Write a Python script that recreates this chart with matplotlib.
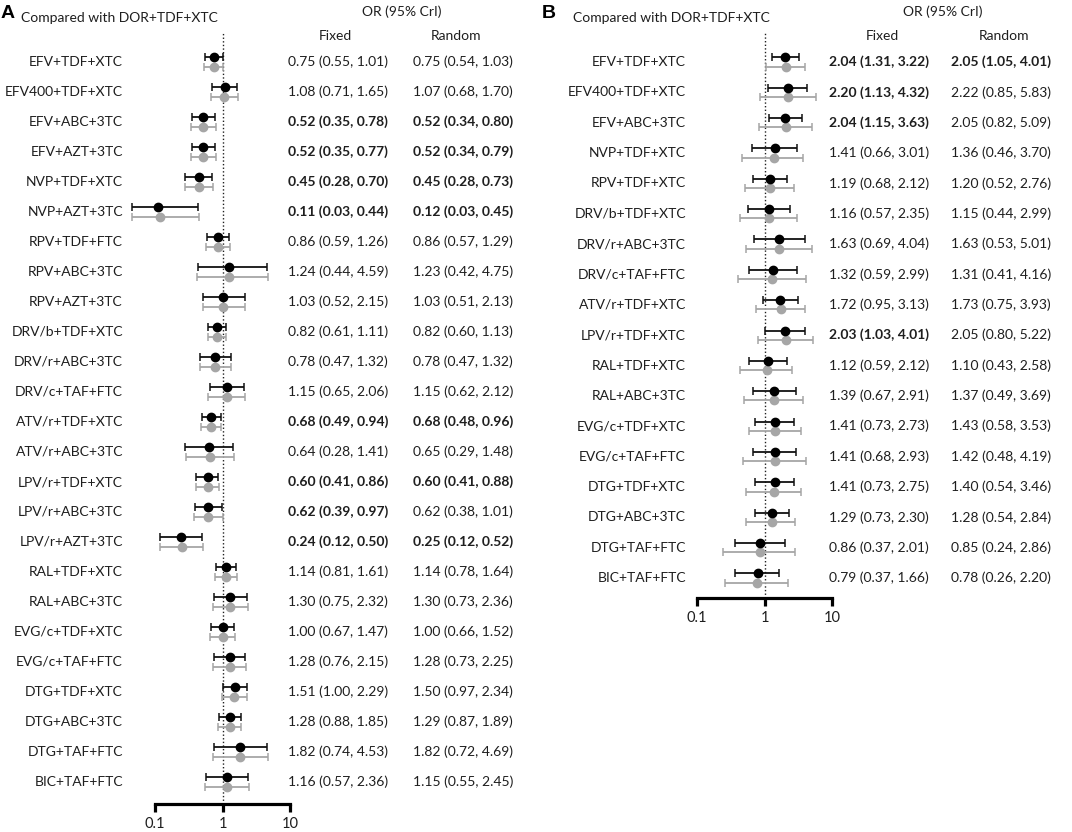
import matplotlib
matplotlib.use("Agg")
import matplotlib.pyplot as plt
import numpy as np

# ---------------- data ----------------
a_labels = ["EFV+TDF+XTC", "EFV400+TDF+XTC", "EFV+ABC+3TC", "EFV+AZT+3TC", "NVP+TDF+XTC",
            "NVP+AZT+3TC", "RPV+TDF+FTC", "RPV+ABC+3TC", "RPV+AZT+3TC", "DRV/b+TDF+XTC",
            "DRV/r+ABC+3TC", "DRV/c+TAF+FTC", "ATV/r+TDF+XTC", "ATV/r+ABC+3TC", "LPV/r+TDF+XTC",
            "LPV/r+ABC+3TC", "LPV/r+AZT+3TC", "RAL+TDF+XTC", "RAL+ABC+3TC", "EVG/c+TDF+XTC",
            "EVG/c+TAF+FTC", "DTG+TDF+XTC", "DTG+ABC+3TC", "DTG+TAF+FTC", "BIC+TAF+FTC"]
# marks (values as drawn)
a_fix_or = [0.75, 1.08, 0.52, 0.52, 0.45, 0.11, 0.86, 1.24, 1.03, 0.82, 0.78, 1.15, 0.68, 0.64, 0.60,
            0.62, 0.24, 1.14, 1.30, 1.00, 1.28, 1.51, 1.28, 1.82, 1.16]
a_fix_lo = [0.55, 0.71, 0.35, 0.35, 0.28, 0.046, 0.59, 0.44, 0.52, 0.61, 0.47, 0.65, 0.49, 0.28, 0.41,
            0.39, 0.12, 0.81, 0.75, 0.67, 0.76, 1.00, 0.88, 0.74, 0.57]
a_fix_hi = [1.01, 1.65, 0.78, 0.77, 0.70, 0.44, 1.26, 4.59, 2.15, 1.11, 1.32, 2.06, 0.94, 1.41, 0.86,
            0.97, 0.50, 1.61, 2.32, 1.47, 2.15, 2.29, 1.85, 4.53, 2.36]
a_ran_or = [0.75, 1.07, 0.52, 0.52, 0.45, 0.12, 0.86, 1.23, 1.03, 0.82, 0.78, 1.15, 0.68, 0.65, 0.60,
            0.62, 0.25, 1.14, 1.30, 1.00, 1.28, 1.50, 1.29, 1.82, 1.15]
a_ran_lo = [0.54, 0.68, 0.34, 0.34, 0.28, 0.045, 0.57, 0.42, 0.51, 0.60, 0.47, 0.62, 0.48, 0.29, 0.41,
            0.38, 0.12, 0.78, 0.73, 0.66, 0.73, 0.97, 0.87, 0.72, 0.55]
a_ran_hi = [1.03, 1.70, 0.80, 0.79, 0.73, 0.45, 1.29, 4.75, 2.13, 1.13, 1.32, 2.12, 0.96, 1.48, 0.88,
            1.01, 0.52, 1.64, 2.36, 1.52, 2.25, 2.34, 1.89, 4.69, 2.45]
# printed columns
a_fix_text = ["0.75 (0.55, 1.01)", "1.08 (0.71, 1.65)", "0.52 (0.35, 0.78)", "0.52 (0.35, 0.77)",
              "0.45 (0.28, 0.70)", "0.11 (0.03, 0.44)", "0.86 (0.59, 1.26)", "1.24 (0.44, 4.59)",
              "1.03 (0.52, 2.15)", "0.82 (0.61, 1.11)", "0.78 (0.47, 1.32)", "1.15 (0.65, 2.06)",
              "0.68 (0.49, 0.94)", "0.64 (0.28, 1.41)", "0.60 (0.41, 0.86)", "0.62 (0.39, 0.97)",
              "0.24 (0.12, 0.50)", "1.14 (0.81, 1.61)", "1.30 (0.75, 2.32)", "1.00 (0.67, 1.47)",
              "1.28 (0.76, 2.15)", "1.51 (1.00, 2.29)", "1.28 (0.88, 1.85)", "1.82 (0.74, 4.53)",
              "1.16 (0.57, 2.36)"]
a_fix_bold = [0, 0, 1, 1, 1, 1, 0, 0, 0, 0, 0, 0, 1, 0, 1, 1, 1, 0, 0, 0, 0, 0, 0, 0, 0]
a_ran_text = ["0.75 (0.54, 1.03)", "1.07 (0.68, 1.70)", "0.52 (0.34, 0.80)", "0.52 (0.34, 0.79)",
              "0.45 (0.28, 0.73)", "0.12 (0.03, 0.45)", "0.86 (0.57, 1.29)", "1.23 (0.42, 4.75)",
              "1.03 (0.51, 2.13)", "0.82 (0.60, 1.13)", "0.78 (0.47, 1.32)", "1.15 (0.62, 2.12)",
              "0.68 (0.48, 0.96)", "0.65 (0.29, 1.48)", "0.60 (0.41, 0.88)", "0.62 (0.38, 1.01)",
              "0.25 (0.12, 0.52)", "1.14 (0.78, 1.64)", "1.30 (0.73, 2.36)", "1.00 (0.66, 1.52)",
              "1.28 (0.73, 2.25)", "1.50 (0.97, 2.34)", "1.29 (0.87, 1.89)", "1.82 (0.72, 4.69)",
              "1.15 (0.55, 2.45)"]
a_ran_bold = [0, 0, 1, 1, 1, 1, 0, 0, 0, 0, 0, 0, 1, 0, 1, 0, 1, 0, 0, 0, 0, 0, 0, 0, 0]

b_labels = ["EFV+TDF+XTC", "EFV400+TDF+XTC", "EFV+ABC+3TC", "NVP+TDF+XTC", "RPV+TDF+XTC",
            "DRV/b+TDF+XTC", "DRV/r+ABC+3TC", "DRV/c+TAF+FTC", "ATV/r+TDF+XTC", "LPV/r+TDF+XTC",
            "RAL+TDF+XTC", "RAL+ABC+3TC", "EVG/c+TDF+XTC", "EVG/c+TAF+FTC", "DTG+TDF+XTC",
            "DTG+ABC+3TC", "DTG+TAF+FTC", "BIC+TAF+FTC"]
b_fix_or = [2.04, 2.20, 2.04, 1.41, 1.19, 1.16, 1.63, 1.32, 1.72, 2.03, 1.12, 1.39, 1.41, 1.41, 1.41,
            1.29, 0.86, 0.79]
b_fix_lo = [1.31, 1.13, 1.15, 0.66, 0.68, 0.57, 0.69, 0.59, 0.95, 1.03, 0.59, 0.67, 0.73, 0.68, 0.73,
            0.73, 0.37, 0.37]
b_fix_hi = [3.22, 4.32, 3.63, 3.01, 2.12, 2.35, 4.04, 2.99, 3.13, 4.01, 2.12, 2.91, 2.73, 2.93, 2.75,
            2.30, 2.01, 1.66]
b_ran_or = [2.05, 2.22, 2.05, 1.36, 1.20, 1.15, 1.63, 1.31, 1.73, 2.05, 1.10, 1.37, 1.43, 1.42, 1.40,
            1.28, 0.85, 0.78]
b_ran_lo = [1.05, 0.85, 0.82, 0.46, 0.52, 0.44, 0.53, 0.41, 0.75, 0.80, 0.43, 0.49, 0.58, 0.48, 0.54,
            0.54, 0.24, 0.26]
b_ran_hi = [4.01, 5.83, 5.09, 3.70, 2.76, 2.99, 5.01, 4.16, 3.93, 5.22, 2.58, 3.69, 3.53, 4.19, 3.46,
            2.84, 2.86, 2.20]
b_fix_text = ["2.04 (1.31, 3.22)", "2.20 (1.13, 4.32)", "2.04 (1.15, 3.63)", "1.41 (0.66, 3.01)",
              "1.19 (0.68, 2.12)", "1.16 (0.57, 2.35)", "1.63 (0.69, 4.04)", "1.32 (0.59, 2.99)",
              "1.72 (0.95, 3.13)", "2.03 (1.03, 4.01)", "1.12 (0.59, 2.12)", "1.39 (0.67, 2.91)",
              "1.41 (0.73, 2.73)", "1.41 (0.68, 2.93)", "1.41 (0.73, 2.75)", "1.29 (0.73, 2.30)",
              "0.86 (0.37, 2.01)", "0.79 (0.37, 1.66)"]
b_fix_bold = [1, 1, 1, 0, 0, 0, 0, 0, 0, 1, 0, 0, 0, 0, 0, 0, 0, 0]
b_ran_text = ["2.05 (1.05, 4.01)", "2.22 (0.85, 5.83)", "2.05 (0.82, 5.09)", "1.36 (0.46, 3.70)",
              "1.20 (0.52, 2.76)", "1.15 (0.44, 2.99)", "1.63 (0.53, 5.01)", "1.31 (0.41, 4.16)",
              "1.73 (0.75, 3.93)", "2.05 (0.80, 5.22)", "1.10 (0.43, 2.58)", "1.37 (0.49, 3.69)",
              "1.43 (0.58, 3.53)", "1.42 (0.48, 4.19)", "1.40 (0.54, 3.46)", "1.28 (0.54, 2.84)",
              "0.85 (0.24, 2.86)", "0.78 (0.26, 2.20)"]
b_ran_bold = [1, 0, 0, 0, 0, 0, 0, 0, 0, 0, 0, 0, 0, 0, 0, 0, 0, 0]

tick_vals = [0.1, 1, 10]
tick_labels = ["0.1", "1", "10"]
title_text = "Compared with DOR+TDF+XTC"
header_text = "OR (95% CrI)"
col_headers = ["Fixed", "Random"]

# ---------------- layout ----------------
W, H = 1072, 832
fig = plt.figure(figsize=(W / 100, H / 100), dpi=100)
FONT = "Lato"
TXT = "#1e1e1e"
GRAY = "#a6a6a6"


def fx(px):
    return px / W


def fy(py):
    return 1 - py / H


def panel(letter, labels, fo, fl, fh, ro, rl, rh, ftxt, fbold, rtxt, rbold, cfg):
    x0, dec, row0, dy, axis_y, top = cfg["x0"], cfg["dec"], cfg["row0"], cfg["dy"], cfg["axis_y"], cfg["top"]
    L, R = x0 - 70, x0 + 2 * dec + 70
    ax = fig.add_axes([fx(L), fy(axis_y), fx(R - L), (axis_y - top) / H])
    ax.set_xscale("log")
    ax.set_xlim(10 ** ((L - x0) / dec - 1), 10 ** ((R - x0) / dec - 1))
    ax.set_ylim((axis_y - row0) / dy, (top - row0) / dy)
    n = len(labels)
    rows = np.arange(n)
    off = 4.6 / dy
    fo, fl, fh = map(np.array, (fo, fl, fh))
    ro, rl, rh = map(np.array, (ro, rl, rh))
    ax.axvline(1, color="#202020", ls=(0, (1, 1.6)), lw=1.0, zorder=1)
    ax.errorbar(ro, rows + off, xerr=[ro - rl, rh - ro], fmt="o", color=GRAY, ecolor=GRAY,
                ms=6, elinewidth=1.3, capsize=3.2, capthick=1.1, zorder=2, clip_on=False)
    ax.errorbar(fo, rows - off, xerr=[fo - fl, fh - fo], fmt="o", color="black", ecolor="#111111",
                ms=6, elinewidth=1.3, capsize=3.2, capthick=1.1, zorder=3, clip_on=False)
    for s in ("top", "left", "right"):
        ax.spines[s].set_visible(False)
    ax.spines["bottom"].set_bounds(tick_vals[0], tick_vals[-1])
    ax.spines["bottom"].set_linewidth(2.3)
    ax.spines["bottom"].set_capstyle("projecting")
    ax.set_xticks(tick_vals)
    ax.set_xticklabels(tick_labels, fontsize=10.5, family=FONT, color=TXT)
    ax.xaxis.set_minor_locator(matplotlib.ticker.NullLocator())
    ax.tick_params(axis="x", length=6, width=2.3, pad=3, color="black")
    ax.set_yticks([])
    ax.patch.set_alpha(0)

    fs = 10
    for i in range(n):
        ypx = row0 + dy * i
        fig.text(fx(cfg["label_right"]), fy(ypx), labels[i], ha="right", va="center",
                 fontsize=fs, family=FONT, color=TXT)
        fig.text(fx(cfg["fixed_left"]), fy(ypx), ftxt[i], ha="left", va="center",
                 fontsize=fs, family=FONT, color=TXT, weight="bold" if fbold[i] else "normal")
        fig.text(fx(cfg["rand_left"]), fy(ypx), rtxt[i], ha="left", va="center",
                 fontsize=fs, family=FONT, color=TXT, weight="bold" if rbold[i] else "normal")
    fig.text(fx(cfg["or_center"]), fy(12), header_text, ha="center", va="center",
             fontsize=fs, family=FONT, color=TXT)
    fig.text(fx(cfg["fixed_center"]), fy(36), col_headers[0], ha="center", va="center",
             fontsize=fs, family=FONT, color=TXT)
    fig.text(fx(cfg["rand_center"]), fy(36), col_headers[1], ha="center", va="center",
             fontsize=fs, family=FONT, color=TXT)
    fig.text(fx(cfg["letter_x"]), fy(14), letter, ha="left", va="center",
             fontsize=14, family="Liberation Sans", weight="bold", color="black")
    fig.text(fx(cfg["title_x"]), fy(18), title_text, ha="left", va="center",
             fontsize=10, family=FONT, color=TXT)


cfgA = dict(x0=155, dec=67.5, row0=62, dy=30.0, axis_y=804, top=33, label_right=123,
            fixed_left=288, rand_left=413, fixed_center=335, rand_center=456, or_center=402,
            letter_x=1, title_x=21)
cfgB = dict(x0=697, dec=67.5, row0=62, dy=30.35, axis_y=598, top=33, label_right=686,
            fixed_left=829, rand_left=951, fixed_center=882, rand_center=1004, or_center=943,
            letter_x=542, title_x=573)

panel("A", a_labels, a_fix_or, a_fix_lo, a_fix_hi, a_ran_or, a_ran_lo, a_ran_hi,
      a_fix_text, a_fix_bold, a_ran_text, a_ran_bold, cfgA)
panel("B", b_labels, b_fix_or, b_fix_lo, b_fix_hi, b_ran_or, b_ran_lo, b_ran_hi,
      b_fix_text, b_fix_bold, b_ran_text, b_ran_bold, cfgB)

fig.savefig("out.png", dpi=100)
